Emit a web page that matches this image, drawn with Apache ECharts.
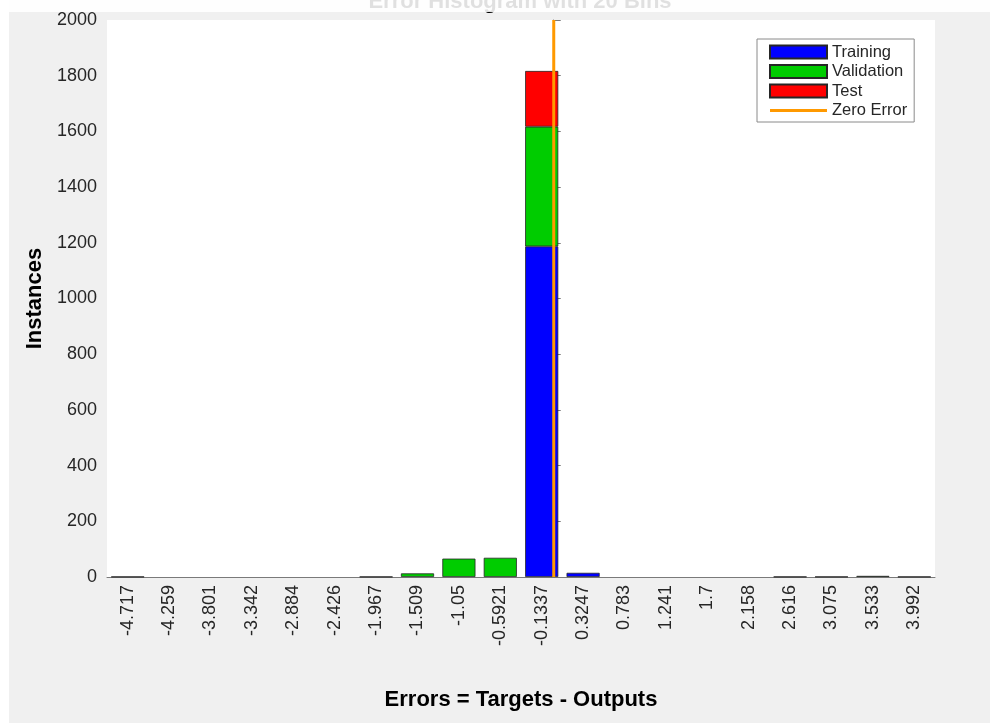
<!DOCTYPE html>
<html>
<head>
<meta charset="utf-8">
<title>Error Histogram with 20 Bins</title>
<script src="https://cdn.jsdelivr.net/npm/echarts@6/dist/echarts.min.js"></script>
<style>
  html, body { margin: 0; padding: 0; background: #ffffff; }
  #chart { width: 990px; height: 723px; }
</style>
</head>
<body>
<div id="chart"></div>
<script>
// Bin centres of the error histogram (tick labels)
const binLabels = ['-4.717', '-4.259', '-3.801', '-3.342', '-2.884', '-2.426', '-1.967', '-1.509', '-1.05', '-0.5921',
                   '-0.1337', '0.3247', '0.783', '1.241', '1.7', '2.158', '2.616', '3.075', '3.533', '3.992'];

// Instances per bin, for each data split
const trainingCounts   = [1, 0, 0, 0, 0, 0, 1, 0, 0, 0, 1187, 15, 0, 0, 0, 0, 1, 1, 0, 1];
const validationCounts = [0, 0, 0, 0, 0, 0, 0, 13, 66, 69, 430, 0, 0, 0, 0, 0, 0, 0, 4, 0];
const testCounts       = [0, 0, 0, 0, 0, 0, 0, 0, 0, 0, 200, 0, 0, 0, 0, 0, 0, 0, 0, 0];

// Position of the zero-error reference line
const zeroError = 0;

const yTicks = { min: 0, max: 2000, step: 200 };

const FONT = "'Liberation Sans', Arial, Helvetica, sans-serif";
const TEXT = '#262626';
const AXIS = '#7a7a7a';

// Bin width, used to give the hidden value axis the same extent as the bins
const firstCentre = parseFloat(binLabels[0]);
const lastCentre = parseFloat(binLabels[binLabels.length - 1]);
const binWidth = (lastCentre - firstCentre) / (binLabels.length - 1);

const asBars = arr => arr.map(v => (v > 0 ? v : '-'));

const chart = echarts.init(document.getElementById('chart'), null, { renderer: 'canvas' });

const barStyle = color => ({ color: color, borderColor: '#262626', borderWidth: 0.8 });

chart.setOption({
  animation: false,
  backgroundColor: '#f0f0f0',
  textStyle: { fontFamily: FONT },
  graphic: [
    { type: 'rect', z: 100, silent: true, shape: { x: 0, y: 0, width: 9, height: 723 }, style: { fill: '#ffffff' } },
    { type: 'text', z: 50, silent: true,
      style: { x: 520, y: 13, text: 'Error Histogram with 20 Bins', align: 'center', verticalAlign: 'bottom',
               font: "bold 22px 'Liberation Sans', Arial, sans-serif", fill: '#000000' } },
    { type: 'rect', z: 100, silent: true, shape: { x: 0, y: 0, width: 990, height: 12 }, style: { fill: 'rgba(255,255,255,0.88)' } }
  ],
  grid: { left: 107, right: 55, top: 20, bottom: 146, show: true, backgroundColor: '#ffffff', borderWidth: 0 },
  legend: {
    orient: 'vertical',
    left: 757, top: 39,
    padding: [4.5, 7, 3, 12],
    backgroundColor: '#ffffff',
    borderColor: '#8a8a8a', borderWidth: 1, borderRadius: 0,
    itemWidth: 57, itemHeight: 13, itemGap: 2.5,
    textStyle: { fontFamily: FONT, fontSize: 16.5, color: TEXT },
    data: [
      { name: 'Training', icon: 'rect' },
      { name: 'Validation', icon: 'rect' },
      { name: 'Test', icon: 'rect' },
      { name: 'Zero Error', icon: 'path://M0,0h0.01v0.01h-0.01zM0,5h57v3h-57zM0,13h0.01v0.01h-0.01z' }
    ]
  },
  xAxis: [
    {
      type: 'category',
      data: binLabels,
      boundaryGap: true,
      name: 'Errors = Targets - Outputs',
      nameLocation: 'middle',
      nameGap: 112,
      nameTextStyle: { fontFamily: FONT, fontSize: 22, fontWeight: 'bold', color: '#000000' },
      axisLine: { lineStyle: { color: AXIS, width: 1 } },
      axisTick: { inside: true, alignWithLabel: true, length: 7, lineStyle: { color: AXIS } },
      axisLabel: { rotate: 90, interval: 0, margin: 8, fontSize: 18, color: TEXT, fontFamily: FONT },
      splitLine: { show: false }
    },
    {
      type: 'value',
      show: false,
      min: firstCentre - binWidth / 2,
      max: lastCentre + binWidth / 2
    }
  ],
  yAxis: {
    type: 'value',
    min: yTicks.min, max: yTicks.max, interval: yTicks.step,
    name: 'Instances',
    nameLocation: 'middle',
    nameRotate: 90,
    nameGap: 59,
    nameTextStyle: { fontFamily: FONT, fontSize: 22, fontWeight: 'bold', color: '#000000' },
    axisLine: { show: true, lineStyle: { color: AXIS, width: 1 } },
    axisTick: { show: true, inside: true, length: 7, lineStyle: { color: AXIS } },
    axisLabel: { fontSize: 18, color: TEXT, margin: 10, fontFamily: FONT, formatter: v => String(v) },
    splitLine: { show: false }
  },
  series: [
    { name: 'Training', type: 'bar', stack: 'errors', barWidth: '80%', xAxisIndex: 0,
      itemStyle: barStyle('#0000ff'), data: asBars(trainingCounts) },
    { name: 'Validation', type: 'bar', stack: 'errors', barWidth: '80%', xAxisIndex: 0,
      itemStyle: barStyle('#00cc00'), data: asBars(validationCounts) },
    { name: 'Test', type: 'bar', stack: 'errors', barWidth: '80%', xAxisIndex: 0,
      itemStyle: barStyle('#ff0000'), data: asBars(testCounts) },
    { name: 'Zero Error', type: 'line', xAxisIndex: 1, z: 5,
      symbol: 'none', silent: true,
      itemStyle: { color: '#ff9900' },
      lineStyle: { color: '#ff9900', width: 3 },
      data: [[zeroError, yTicks.min], [zeroError, yTicks.max]] }
  ]
});
</script>
</body>
</html>
